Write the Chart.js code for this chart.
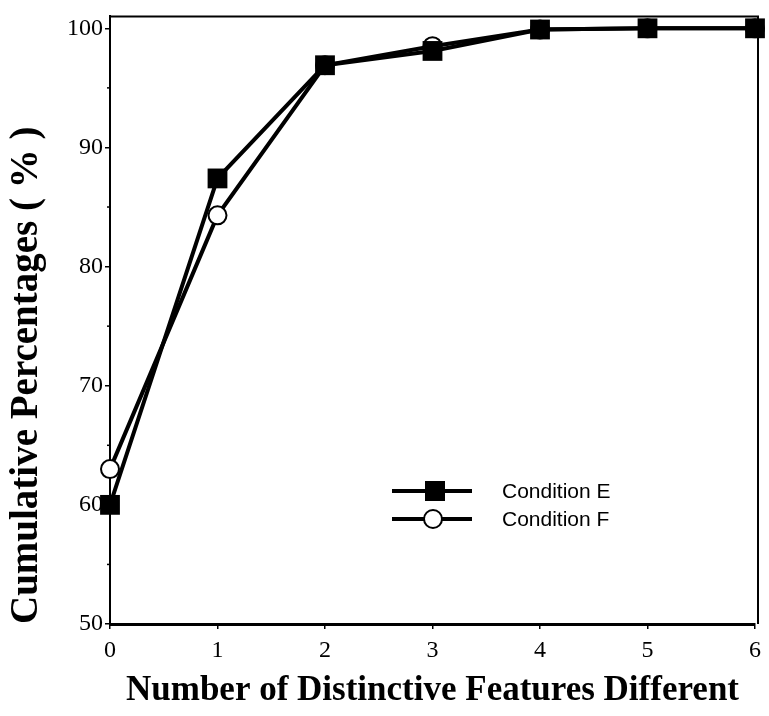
<!DOCTYPE html>
<html>
<head>
<meta charset="utf-8">
<script src="https://cdn.jsdelivr.net/npm/chart.js@4"></script>
<style>
  html, body { margin: 0; padding: 0; background: #fff; }
  #wrap { width: 769px; height: 716px; }
</style>
</head>
<body>
<div id="wrap"><canvas id="c" width="769" height="716"></canvas></div>
<script>
// values
var features = [0, 1, 2, 3, 4, 5, 6];
var condE = [60.0, 87.4, 96.9, 98.1, 99.9, 100.0, 100.0];
var condF = [63.0, 84.3, 96.9, 98.5, 99.9, 100.0, 100.0];
var yTicks = [50, 60, 70, 80, 90, 100];
var seriesNames = ['Condition E', 'Condition F'];

var serif = "'Liberation Serif', 'DejaVu Serif', serif";
var sans = "'Liberation Sans', Arial, sans-serif";

function toPoints(ys) {
  return features.map(function (x, i) { return { x: x, y: ys[i] }; });
}

// box round the plot + the legend inside it
var framePlugin = {
  id: 'frame',
  afterDatasetsDraw: function (chart) {
    var ctx = chart.ctx, a = chart.chartArea;
    ctx.save();
    ctx.strokeStyle = '#000';
    ctx.lineWidth = 2;
    ctx.beginPath();
    ctx.moveTo(a.left, a.top);
    ctx.lineTo(a.right + 3, a.top);
    ctx.lineTo(a.right + 3, a.bottom);
    ctx.stroke();

    // minor ticks on y axis
    var ys = chart.scales.y;
    ctx.lineWidth = 1.5;
    [55, 65, 75, 85, 95].forEach(function (v) {
      var py = ys.getPixelForValue(v);
      ctx.beginPath();
      ctx.moveTo(a.left - 3, py);
      ctx.lineTo(a.left + 1, py);
      ctx.stroke();
    });

    // legend
    var rows = [491, 519];
    chart.data.datasets.forEach(function (ds, i) {
      var y = rows[i];
      ctx.strokeStyle = '#000';
      ctx.lineWidth = 4;
      ctx.beginPath();
      ctx.moveTo(392, y);
      ctx.lineTo(472, y);
      ctx.stroke();
      if (ds.pointStyle === 'rect') {
        ctx.fillStyle = '#000';
        ctx.fillRect(425, y - 10, 20, 20);
      } else {
        ctx.fillStyle = '#fff';
        ctx.lineWidth = 2;
        ctx.beginPath();
        ctx.arc(433, y, 9, 0, Math.PI * 2);
        ctx.fill();
        ctx.stroke();
      }
      ctx.fillStyle = '#000';
      ctx.font = '21px ' + sans;
      ctx.textBaseline = 'middle';
      ctx.fillText(ds.label, 502, y + 1);
    });
    ctx.restore();
  }
};

new Chart('c', {
  type: 'line',
  data: {
    datasets: [
      {
        label: seriesNames[0],
        data: toPoints(condE),
        borderColor: '#000',
        backgroundColor: '#000',
        borderWidth: 4,
        pointStyle: 'rect',
        pointRadius: 14,
        pointBorderWidth: 0,
        clip: false,
        order: 1
      },
      {
        label: seriesNames[1],
        data: toPoints(condF),
        borderColor: '#000',
        backgroundColor: '#fff',
        borderWidth: 4,
        pointStyle: 'circle',
        pointRadius: 9,
        pointBorderWidth: 2,
        clip: false,
        order: 2
      }
    ]
  },
  options: {
    responsive: false,
    animation: false,
    layout: { padding: { top: 9, right: 9, left: 0, bottom: 0 } },
    plugins: { legend: { display: false }, tooltip: { enabled: false } },
    scales: {
      x: {
        type: 'linear',
        min: 0,
        max: 6,
        afterFit: function (s) { s.height = 92; },
        grid: { drawOnChartArea: false, color: '#000', tickLength: 5, lineWidth: 1.5 },
        border: { color: '#000', width: 3 },
        ticks: { stepSize: 1, color: '#000', font: { family: serif, size: 24 }, padding: 7 },
        title: {
          display: true,
          text: 'Number of Distinctive Features Different',
          color: '#000',
          font: { family: serif, size: 35, weight: 'bold' },
          padding: { top: 0 }
        }
      },
      y: {
        min: 50,
        max: 101,
        afterFit: function (s) { s.width = 110; },
        afterBuildTicks: function (s) {
          s.ticks = yTicks.map(function (v) { return { value: v }; });
        },
        grid: { drawOnChartArea: false, color: '#000', tickLength: 5, lineWidth: 1.5 },
        border: { color: '#000', width: 2 },
        ticks: { color: '#000', font: { family: serif, size: 24 }, padding: 2 },
        title: {
          display: true,
          align: 'start',
          text: 'Cumulative Percentages ( % )',
          color: '#000',
          font: { family: serif, size: 39, weight: 'bold' },
          padding: { bottom: 4 }
        }
      }
    }
  },
  plugins: [framePlugin]
});
</script>
</body>
</html>
